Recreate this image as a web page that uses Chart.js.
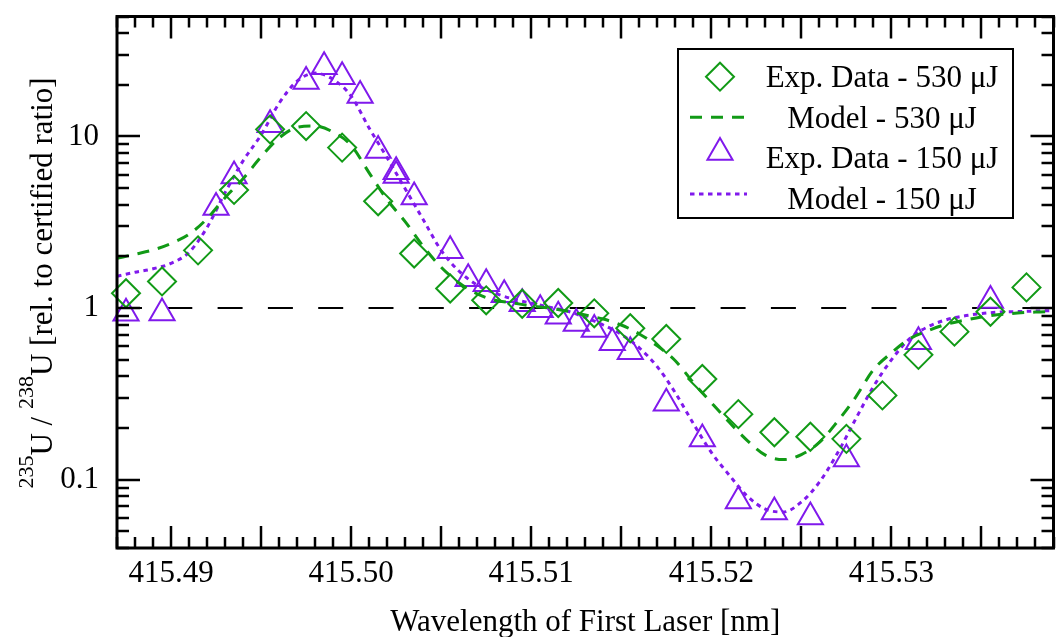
<!DOCTYPE html>
<html>
<head>
<meta charset="utf-8">
<script src="https://cdn.jsdelivr.net/npm/chart.js@4"></script>
<style>
  html, body { margin: 0; padding: 0; overflow: hidden; background: #fff; }
  #wrap { width: 1070px; height: 637px; }
</style>
</head>
<body>
<div id="wrap"><canvas id="chart" width="1070" height="637"></canvas></div>
<script>
// measured points, 530 uJ (diamonds)
const exp530Wavelength = [415.4875, 415.4895, 415.4915, 415.4935, 415.4955, 415.4975, 415.4995, 415.5015, 415.5035, 415.5055, 415.5075, 415.5095, 415.5115, 415.5135, 415.5155, 415.5175, 415.5195, 415.5215, 415.5235, 415.5255, 415.5275, 415.5295, 415.5315, 415.5335, 415.5355, 415.5375]
const exp530Ratio = [1.22, 1.43, 2.17, 4.88, 11.0, 11.5, 8.61, 4.19, 2.08, 1.30, 1.11, 1.06, 1.07, 0.932, 0.763, 0.661, 0.386, 0.241, 0.189, 0.178, 0.173, 0.310, 0.534, 0.729, 0.952, 1.32]

// measured points, 150 uJ (triangles)
const exp150Wavelength = [415.4875, 415.4895, 415.4925, 415.4935, 415.4955, 415.4975, 415.4985, 415.4995, 415.5005, 415.5015, 415.5025, 415.5025, 415.5035, 415.5055, 415.5065, 415.5075, 415.5085, 415.5095, 415.5105, 415.5115, 415.5125, 415.5135, 415.5145, 415.5155, 415.5175, 415.5195, 415.5215, 415.5235, 415.5255, 415.5275, 415.5315, 415.5355]
const exp150Ratio = [0.934, 0.937, 3.86, 5.88, 11.7, 20.9, 25.5, 22.3, 17.3, 8.28, 6.22, 5.93, 4.44, 2.16, 1.48, 1.385, 1.196, 1.06, 0.979, 0.895, 0.812, 0.749, 0.628, 0.557, 0.279, 0.1727, 0.0751, 0.0649, 0.0607, 0.132, 0.636, 1.108]

// model curves
const modelWavelength = [415.487, 415.488, 415.489, 415.490, 415.491, 415.492, 415.493, 415.494, 415.495, 415.496, 415.497, 415.498, 415.499, 415.500, 415.501, 415.502, 415.503, 415.504, 415.505, 415.506, 415.507, 415.508, 415.509, 415.510, 415.511, 415.512, 415.513, 415.514, 415.515, 415.516, 415.517, 415.518, 415.519, 415.520, 415.521, 415.522, 415.523, 415.524, 415.525, 415.526, 415.527, 415.528, 415.529, 415.530, 415.531, 415.532, 415.533, 415.534, 415.535, 415.536, 415.537, 415.538, 415.539]
const model530Ratio = [1.95, 2.06, 2.18, 2.38, 2.69, 3.32, 4.40, 5.67, 7.61, 9.80, 11.3, 11.5, 10.6, 8.87, 6.14, 4.28, 3.19, 2.29, 1.73, 1.40, 1.21, 1.11, 1.07, 1.03, 1.00, 0.961, 0.911, 0.863, 0.797, 0.707, 0.602, 0.493, 0.368, 0.281, 0.216, 0.169, 0.139, 0.131, 0.140, 0.165, 0.218, 0.301, 0.437, 0.548, 0.661, 0.736, 0.802, 0.847, 0.887, 0.917, 0.936, 0.948, 0.954]
const model150Ratio = [1.533, 1.617, 1.694, 1.823, 2.112, 2.949, 4.705, 7.21, 10.2, 15.6, 21.0, 23.4, 21.5, 17.2, 11.2, 7.51, 4.96, 3.28, 2.17, 1.639, 1.36, 1.22, 1.128, 1.069, 1.013, 0.961, 0.881, 0.797, 0.702, 0.586, 0.455, 0.321, 0.2126, 0.1443, 0.1062, 0.0802, 0.0674, 0.0648, 0.0741, 0.0967, 0.1424, 0.2243, 0.3484, 0.4994, 0.661, 0.776, 0.852, 0.899, 0.929, 0.948, 0.954, 0.961, 0.967]

const xRange = [415.487, 415.539]
const yRange = [0.04, 50]
const xTickLabels = [415.49, 415.50, 415.51, 415.52, 415.53]
const yTickLabels = [0.1, 1, 10]
const certifiedRatio = 1

const green = '#119a16'
const purple = '#8019ec'
const serif = "'Liberation Serif', 'Times New Roman', serif"

const toPoints = (xs, ys) => xs.map((x, i) => ({ x, y: ys[i] }))

const noPadding = s => {
  s.paddingTop = 0
  s.paddingBottom = 0
  s.paddingLeft = 0
  s.paddingRight = 0
}

// inward ticks on all four sides, frame, rotated y title and the boxed legend
const decorations = {
  id: 'decorations',
  afterDraw(chart) {
    const { ctx, chartArea: a } = chart
    const x = chart.scales.x
    const y = chart.scales.y
    ctx.save()
    ctx.strokeStyle = '#000'
    ctx.lineWidth = 2.5
    ctx.beginPath()
    for (let m = 415487; m <= 415539; m++) {
      const px = Math.round(x.getPixelForValue(m / 1000))
      const len = m % 5 === 0 ? 22 : 11
      ctx.moveTo(px, a.bottom)
      ctx.lineTo(px, a.bottom - len)
      ctx.moveTo(px, a.top)
      ctx.lineTo(px, a.top + len)
    }
    for (let d = -2; d <= 1; d++) {
      for (let m = 1; m <= 9; m++) {
        const v = m * Math.pow(10, d)
        if (v < yRange[0] || v > yRange[1]) continue
        const py = Math.round(y.getPixelForValue(v))
        const len = m === 1 ? 23 : 12
        ctx.moveTo(a.left, py)
        ctx.lineTo(a.left + len, py)
        ctx.moveTo(a.right, py)
        ctx.lineTo(a.right - len, py)
      }
    }
    ctx.stroke()
    ctx.lineWidth = 3
    ctx.strokeRect(a.left, a.top, a.right - a.left, a.bottom - a.top)

    // y axis title with superscript mass numbers
    const parts = [['235', true], ['U / ', false], ['238', true], ['U [rel. to certified ratio]', false]]
    const mainFont = '31px ' + serif
    const supFont = '22px ' + serif
    let total = 0
    parts.forEach(([t, sup]) => {
      ctx.font = sup ? supFont : mainFont
      total += ctx.measureText(t).width
    })
    ctx.translate(52, 283)
    ctx.rotate(-Math.PI / 2)
    ctx.fillStyle = '#000'
    ctx.textBaseline = 'alphabetic'
    let cx = -total / 2
    parts.forEach(([t, sup]) => {
      ctx.font = sup ? supFont : mainFont
      ctx.fillText(t, cx, sup ? -19 : 0)
      cx += ctx.measureText(t).width
    })
    ctx.restore()

    // legend
    ctx.save()
    ctx.fillStyle = '#fff'
    ctx.fillRect(678, 49, 335, 169)
    ctx.strokeStyle = '#000'
    ctx.lineWidth = 2
    ctx.strokeRect(678, 49, 335, 169)
    const rows = [[0, 86.5, 76.7], [1, 127.5, 117.3], [2, 168, 152.6], [3, 209, 194]]
    rows.forEach(([i, base, mid]) => {
      const ds = chart.data.datasets[i]
      ctx.strokeStyle = ds.borderColor
      ctx.lineWidth = ds.borderWidth
      if (ds.showLine) {
        ctx.setLineDash(ds.borderDash)
        ctx.beginPath()
        ctx.moveTo(690, mid)
        ctx.lineTo(747, mid)
        ctx.stroke()
        ctx.setLineDash([])
      } else {
        ctx.fillStyle = 'rgba(0,0,0,0)'
        Chart.helpers.drawPoint(ctx, {
          pointStyle: ds.pointStyle,
          radius: ds.pointRadius,
          rotation: 0,
          borderWidth: ds.borderWidth
        }, 720, mid)
      }
      ctx.fillStyle = '#000'
      ctx.font = '31px ' + serif
      ctx.textAlign = 'center'
      ctx.textBaseline = 'alphabetic'
      ctx.fillText(ds.label, 882, base)
    })
    ctx.restore()
  }
}

new Chart(document.getElementById('chart'), {
  type: 'scatter',
  data: {
    datasets: [
      {
        label: 'Exp. Data - 530 \u03bcJ',
        data: toPoints(exp530Wavelength, exp530Ratio),
        pointStyle: 'rectRot',
        pointRadius: 14,
        borderWidth: 2,
        borderColor: green,
        backgroundColor: 'rgba(0,0,0,0)',
        showLine: false,
        clip: false
      },
      {
        label: 'Model - 530 \u03bcJ',
        data: toPoints(modelWavelength, model530Ratio),
        showLine: true,
        pointRadius: 0,
        borderWidth: 3,
        borderColor: green,
        borderDash: [12, 9],
        cubicInterpolationMode: 'monotone'
      },
      {
        label: 'Exp. Data - 150 \u03bcJ',
        data: toPoints(exp150Wavelength, exp150Ratio),
        pointStyle: 'triangle',
        pointRadius: 14.5,
        borderWidth: 2,
        borderColor: purple,
        backgroundColor: 'rgba(0,0,0,0)',
        showLine: false,
        clip: false
      },
      {
        label: 'Model - 150 \u03bcJ',
        data: toPoints(modelWavelength, model150Ratio),
        showLine: true,
        pointRadius: 0,
        borderWidth: 3,
        borderColor: purple,
        borderDash: [4.5, 4.5],
        cubicInterpolationMode: 'monotone'
      },
      {
        label: 'certified',
        data: toPoints(xRange, [certifiedRatio, certifiedRatio]),
        showLine: true,
        pointRadius: 0,
        borderWidth: 2,
        borderColor: '#000',
        borderDash: [25, 25.3],
        order: 10
      }
    ]
  },
  options: {
    responsive: false,
    animation: false,
    devicePixelRatio: 1,
    layout: { padding: { top: 15, right: 4, left: 0, bottom: 0 } },
    plugins: {
      legend: { display: false },
      tooltip: { enabled: false }
    },
    scales: {
      x: {
        type: 'linear',
        min: xRange[0],
        max: xRange[1],
        grid: { display: false, drawTicks: false },
        border: { display: false },
        afterBuildTicks: s => { s.ticks = xTickLabels.map(v => ({ value: v })) },
        afterFit: s => { s.height = 89; noPadding(s) },
        ticks: {
          autoSkip: false,
          maxRotation: 0,
          padding: 7,
          color: '#000',
          font: { family: serif, size: 31 },
          callback: v => v.toFixed(2)
        },
        title: {
          display: true,
          text: 'Wavelength of First Laser [nm]',
          color: '#000',
          font: { family: serif, size: 31, lineHeight: 0.9 },
          padding: { top: 0, bottom: 0 }
        }
      },
      y: {
        type: 'logarithmic',
        min: yRange[0],
        max: yRange[1],
        grid: { display: false, drawTicks: false },
        border: { display: false },
        afterBuildTicks: s => { s.ticks = yTickLabels.map(v => ({ value: v })) },
        afterFit: s => { s.width = 117; noPadding(s) },
        ticks: {
          autoSkip: false,
          padding: 18,
          color: '#000',
          font: { family: serif, size: 31 },
          callback: v => String(v)
        }
      }
    }
  },
  plugins: [decorations]
})
</script>
</body>
</html>
